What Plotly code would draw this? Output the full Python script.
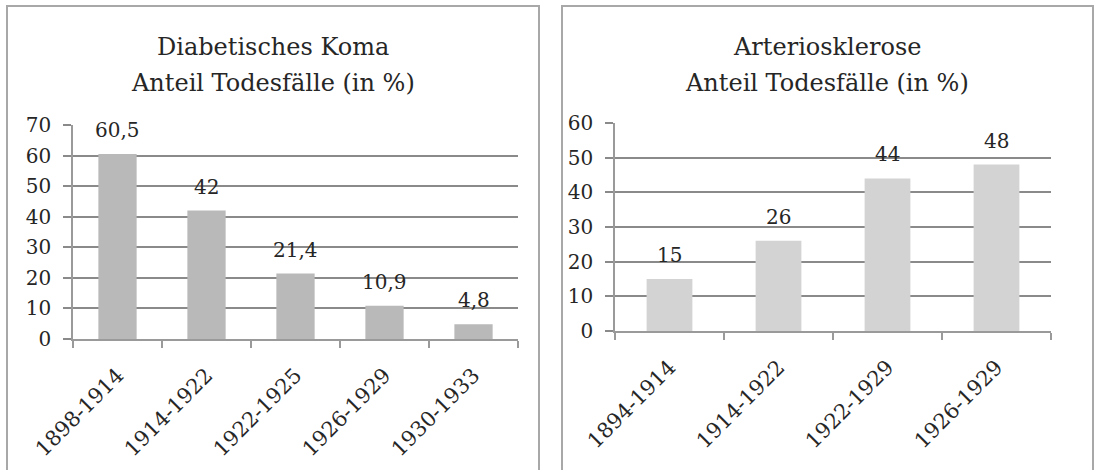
import plotly.graph_objects as go

# ---- data ----
left_title = ["Diabetisches Koma", "Anteil Todesfälle (in %)"]
left_categories = ["1898-1914", "1914-1922", "1922-1925", "1926-1929", "1930-1933"]
left_values = [60.5, 42, 21.4, 10.9, 4.8]
left_ticks = [0, 10, 20, 30, 40, 50, 60, 70]

right_title = ["Arteriosklerose", "Anteil Todesfälle (in %)"]
right_categories = ["1894-1914", "1914-1922", "1922-1929", "1926-1929"]
right_values = [15, 26, 44, 48]
right_ticks = [0, 10, 20, 30, 40, 50, 60]

W, H = 1097, 470
FONT = "DejaVu Serif"
TXT = "#262626"
GRID = "#8a8a8a"
AXIS = "#9a9a9a"
BORDER = "#a8a8a8"

fig = go.Figure()

fig.add_trace(go.Bar(
    x=left_categories, y=left_values, width=0.43,
    marker=dict(color="#b9b9b9", line=dict(width=0)),
    xaxis="x", yaxis="y", showlegend=False, hoverinfo="x+y",
))
fig.add_trace(go.Bar(
    x=right_categories, y=right_values, width=0.42,
    marker=dict(color="#d3d3d3", line=dict(width=0)),
    xaxis="x2", yaxis="y2", showlegend=False, hoverinfo="x+y",
))

annotations = []
def fmt(v):
    s = f"{v:g}"
    return s.replace(".", ",")

for c, v in zip(left_categories, left_values):
    annotations.append(dict(x=c, y=v, xref="x", yref="y", text=fmt(v),
                            showarrow=False, yanchor="bottom", yshift=10,
                            font=dict(family=FONT, size=20, color=TXT)))
for c, v in zip(right_categories, right_values):
    annotations.append(dict(x=c, y=v, xref="x2", yref="y2", text=fmt(v),
                            showarrow=False, yanchor="bottom", yshift=10,
                            font=dict(family=FONT, size=20, color=TXT)))

for cx, lines in ((273 / W, left_title), (827 / W, right_title)):
    for yy, line in zip((1 - 47 / H, 1 - 83 / H), lines):
        annotations.append(dict(x=cx, y=yy, xref="paper", yref="paper",
                                text=line, showarrow=False,
                                xanchor="center", yanchor="middle",
                                font=dict(family=FONT, size=24, color=TXT)))

xcommon = dict(
    type="category", showgrid=False, showline=True, linecolor=AXIS, linewidth=1.5,
    ticks="outside", tickson="boundaries", ticklen=7, tickcolor=AXIS, tickwidth=1.5,
    tickangle=-45, tickfont=dict(family=FONT, size=21, color=TXT),
    ticklabelstandoff=14, fixedrange=True, automargin=False,
)
ycommon = dict(
    showgrid=True, gridcolor=GRID, gridwidth=1.5, showline=True, linecolor=AXIS,
    linewidth=1.5, ticks="outside", ticklen=8, tickcolor=GRID, tickwidth=1.5,
    tickfont=dict(family=FONT, size=20, color=TXT), zeroline=False,
    ticklabelstandoff=8, fixedrange=True, automargin=False,
)

fig.update_layout(
    width=W, height=H,
    margin=dict(l=0, r=0, t=0, b=0, autoexpand=False),
    paper_bgcolor="white", plot_bgcolor="white",
    separators=",.",
    bargap=0.57,
    xaxis=dict(domain=[73 / W, 518 / W], anchor="y", range=[-0.5, 4.5], **xcommon),
    yaxis=dict(domain=[1 - 339 / H, 1 - 125 / H], anchor="x", range=[0, 70],
               tickvals=left_ticks, **ycommon),
    xaxis2=dict(domain=[615 / W, 1051 / W], anchor="y2", range=[-0.5, 3.5], **xcommon),
    yaxis2=dict(domain=[1 - 331 / H, 1 - 123 / H], anchor="x2", range=[0, 60],
                tickvals=right_ticks, **ycommon),
    annotations=annotations,
    shapes=[
        dict(type="rect", xref="paper", yref="paper",
             x0=7 / W, x1=539 / W, y0=-0.05, y1=1 - 6 / H,
             line=dict(color=BORDER, width=2), layer="below"),
        dict(type="rect", xref="paper", yref="paper",
             x0=562 / W, x1=1093 / W, y0=-0.05, y1=1 - 6 / H,
             line=dict(color=BORDER, width=2), layer="below"),
    ],
)

fig.write_html(
    "out.html",
    config={"displayModeBar": False},
    post_script="document.body.style.margin='0';document.body.style.overflow='hidden';",
)
